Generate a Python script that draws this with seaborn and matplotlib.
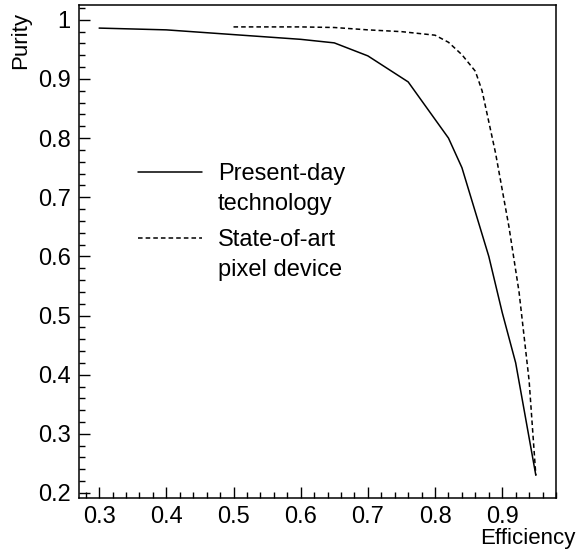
import numpy as np
import pandas as pd
import matplotlib
matplotlib.use("Agg")
import matplotlib.pyplot as plt
from matplotlib.ticker import MultipleLocator
from matplotlib.lines import Line2D
import seaborn as sns

# Purity vs efficiency curves
present_eff = [0.30, 0.40, 0.50, 0.60, 0.65, 0.70, 0.76, 0.82, 0.84, 0.86, 0.88, 0.90, 0.92, 0.95]
present_pur = [0.986, 0.983, 0.975, 0.967, 0.961, 0.939, 0.895, 0.800, 0.750, 0.675, 0.600, 0.505, 0.420, 0.230]

pixel_eff = [0.50, 0.60, 0.65, 0.70, 0.75, 0.80, 0.82, 0.84, 0.86, 0.87, 0.89, 0.91, 0.925, 0.94, 0.95]
pixel_pur = [0.988, 0.988, 0.987, 0.983, 0.980, 0.974, 0.962, 0.941, 0.913, 0.880, 0.775, 0.650, 0.540, 0.390, 0.230]

labels = ["Present-day technology", "State-of-art pixel device"]

df = pd.concat([
    pd.DataFrame({"Efficiency": present_eff, "Purity": present_pur, "curve": labels[0]}),
    pd.DataFrame({"Efficiency": pixel_eff, "Purity": pixel_pur, "curve": labels[1]}),
])

sns.set_style("ticks")
plt.rcParams['font.family'] = ['Liberation Sans', 'DejaVu Sans']
plt.rcParams['text.color'] = 'black'

fig = plt.figure(figsize=(5.82, 5.52), dpi=100)
ax = fig.add_axes([0.1357, 0.0978, 0.8196, 0.8931])

sns.lineplot(data=df, x="Efficiency", y="Purity", hue="curve", style="curve",
             palette=["black", "black"], dashes=[(None, None), (3, 2)],
             linewidth=1.1, sort=False, legend=False, ax=ax)

ax.set_xlim(0.27, 0.98)
ax.set_ylim(0.1915, 1.025)
ax.xaxis.set_minor_locator(MultipleLocator(0.02))
ax.yaxis.set_minor_locator(MultipleLocator(0.02))
ax.set_xticks([0.3, 0.4, 0.5, 0.6, 0.7, 0.8, 0.9])
ax.set_xticklabels(["0.3", "0.4", "0.5", "0.6", "0.7", "0.8", "0.9"])
ax.set_yticks([0.2, 0.3, 0.4, 0.5, 0.6, 0.7, 0.8, 0.9, 1.0])
ax.set_yticklabels(["0.2", "0.3", "0.4", "0.5", "0.6", "0.7", "0.8", "0.9", "1"])
ax.tick_params(which="major", direction="in", length=8, width=1, labelsize=17, pad=6, colors="black")
ax.tick_params(which="minor", direction="in", length=4.5, width=1, colors="black")
for s in ax.spines.values():
    s.set_visible(True)
    s.set_linewidth(1.1)
    s.set_color("black")

ax.set_xlabel("")
ax.set_ylabel("")
fig.text(0.988, 0.025, "Efficiency", ha="right", va="center", fontsize=16)
fig.text(0.035, 0.978, "Purity", ha="center", va="top", rotation=90, fontsize=16)

# legends: handle aligned with the first line of each two-line label
leg_kw = dict(loc="upper left", frameon=False, fontsize=17, handlelength=2.7,
              handletextpad=0.68, labelspacing=0.35, borderpad=0, borderaxespad=0)
leg1 = ax.legend([Line2D([], [], color="black", linewidth=1.1), Line2D([], [], color="none")],
                 ["Present-day", "technology"], bbox_to_anchor=(0.124, 0.680), **leg_kw)
ax.add_artist(leg1)
ax.legend([Line2D([], [], color="black", linewidth=1.1, dashes=(3, 2)), Line2D([], [], color="none")],
          ["State-of-art", "pixel device"], bbox_to_anchor=(0.124, 0.546), **leg_kw)

fig.savefig("out.png", dpi=100)
